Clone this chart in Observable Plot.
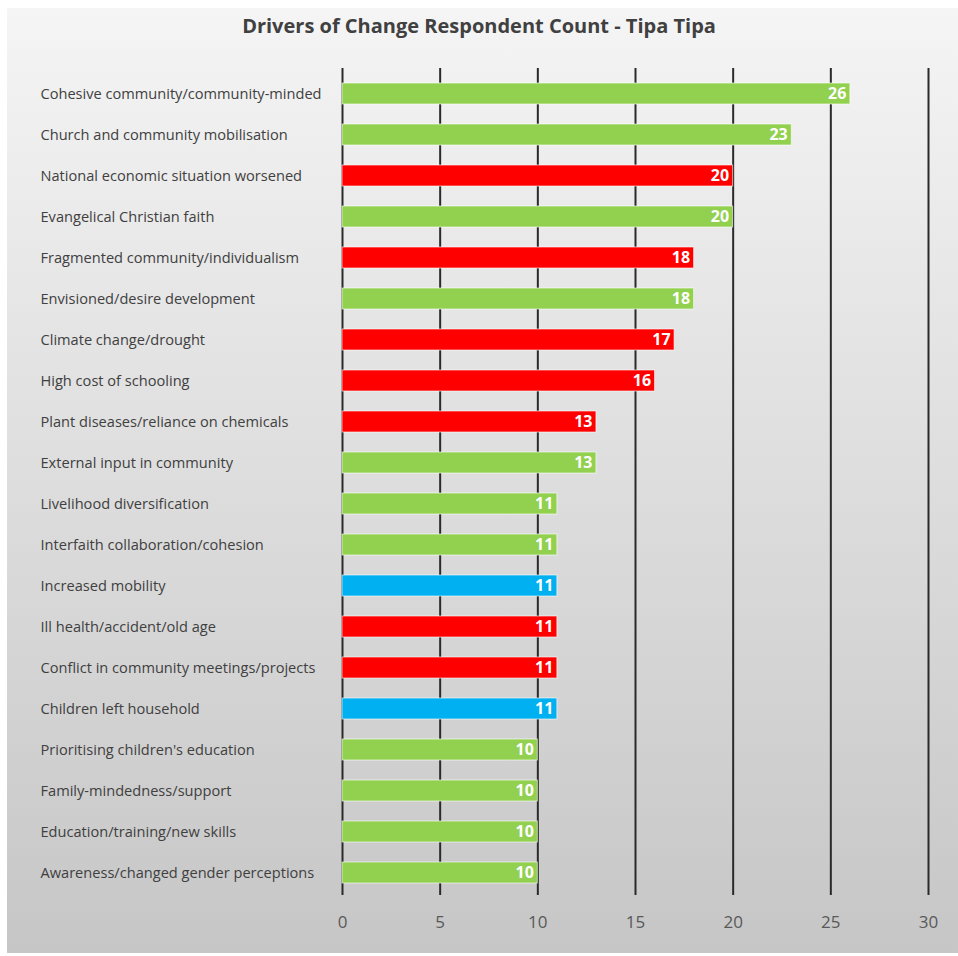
<!DOCTYPE html>
<html><head><meta charset="utf-8">
<script src="https://cdn.jsdelivr.net/npm/d3@7"></script>
<script src="https://cdn.jsdelivr.net/npm/@observablehq/plot@0.6"></script>
<style>
html,body{margin:0;padding:0;background:#fff;width:958px;height:956px;overflow:hidden;}
#panel{position:absolute;left:7px;top:8px;width:951px;height:945px;background:linear-gradient(#f5f5f5,#f0f0f0 10%,#c6c6c6);}
#title{position:absolute;left:0;top:12px;width:958px;text-align:center;font-family:"Open Sans",sans-serif;font-weight:700;font-size:20px;color:#404040;}
#chart{position:absolute;left:0;top:50px;}
</style></head>
<body>
<div id="panel"></div>
<div id="title">Drivers of Change Respondent Count - Tipa Tipa</div>
<div id="chart"></div>
<script>
const categories = [
  "Cohesive community/community-minded",
  "Church and community mobilisation",
  "National economic situation worsened",
  "Evangelical Christian faith",
  "Fragmented community/individualism",
  "Envisioned/desire development",
  "Climate change/drought",
  "High cost of schooling",
  "Plant diseases/reliance on chemicals",
  "External input in community",
  "Livelihood diversification",
  "Interfaith collaboration/cohesion",
  "Increased mobility",
  "Ill health/accident/old age",
  "Conflict in community meetings/projects",
  "Children left household",
  "Prioritising children's education",
  "Family-mindedness/support",
  "Education/training/new skills",
  "Awareness/changed gender perceptions"
];
const counts = [26, 23, 20, 20, 18, 18, 17, 16, 13, 13, 11, 11, 11, 11, 11, 11, 10, 10, 10, 10];
const kinds = ["positive","positive","negative","positive","negative","positive","negative","negative","negative","positive",
               "positive","positive","neutral","negative","negative","neutral","positive","positive","positive","positive"];
const kindNames = ["positive","negative","neutral"];
const kindColors = ["#92d050","#ff0000","#00b0f0"];
const xTicks = [0, 5, 10, 15, 20, 25, 30];

const data = categories.map((c, i) => ({label: c, value: counts[i], kind: kinds[i]}));

const chart = Plot.plot({
  width: 958,
  height: 906,
  marginLeft: 342,
  marginRight: 30,
  marginTop: 18,
  marginBottom: 61,
  style: {background: "transparent", fontFamily: "'Open Sans', sans-serif"},
  x: {domain: [0, 30], ticks: xTicks},
  y: {domain: categories, paddingInner: 0.5, paddingOuter: 0.2, axis: null},
  color: {domain: kindNames, range: kindColors},
  marks: [
    Plot.gridX(xTicks, {stroke: "#2a2a2a", strokeOpacity: 1, strokeWidth: 2}),
    Plot.axisX(xTicks, {tickSize: 0, tickPadding: 20, fontSize: 17, fill: "#595959", label: null}),
    Plot.barX(data, {y: "label", x: "value", fill: "kind", stroke: "#ffffff", strokeOpacity: 0.6, strokeWidth: 1, dy: 1}),
    Plot.text(data, {y: "label", text: "label", frameAnchor: "left", textAnchor: "start", dx: -302, dy: 1, fontSize: 14.6, fill: "#404040"}),
    Plot.text(data, {y: "label", x: "value", text: d => String(d.value), textAnchor: "end", dx: -4, dy: 1, fontSize: 16, fontWeight: 700, fill: "#ffffff"})
  ]
});
document.getElementById("chart").appendChild(chart);
</script>
</body></html>
